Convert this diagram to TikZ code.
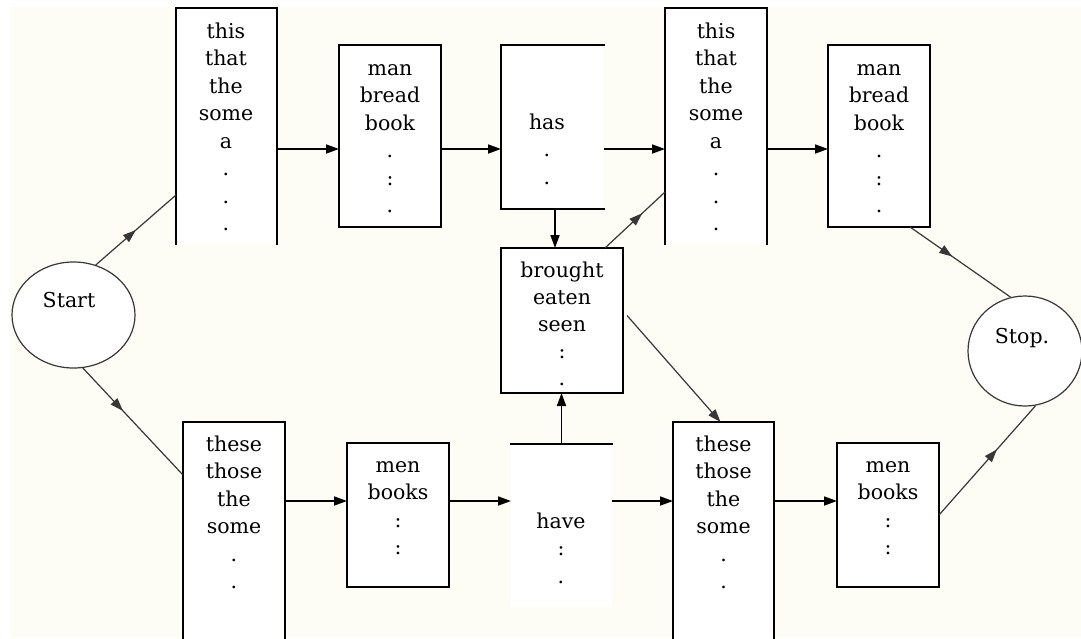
\documentclass[tikz,border=0pt]{standalone}
\usepackage{fontspec}
\setmainfont{DejaVu Serif}
\usetikzlibrary{arrows.meta,shapes.geometric,decorations.markings,calc}
\definecolor{paper}{RGB}{253,253,246}
\definecolor{thinline}{RGB}{55,55,55}
% fixed height on the first line so every word column hangs from the same point
\newcommand\wordstrut{\rule{0pt}{16pt}}
\tikzset{
  slot/.style={draw=none, fill=white, inner sep=0pt, outer sep=0pt},
  fullbox/.style={slot, draw=black, line width=1.9pt},
  edge/.style={line width=1.9pt, line cap=rect},
  words/.style={anchor=north, align=center, inner sep=0pt,
                font=\fontsize{20.5}{27.5}\selectfont},
  tag/.style={anchor=base, inner sep=0pt, font=\fontsize{20.5}{24}\selectfont},
  terminal/.style={ellipse, draw=thinline, line width=1.2pt, fill=white, inner sep=0pt},
  conn/.style={line width=1.7pt, -{Triangle[length=13pt,width=9pt]}},
  midarrow/.style={draw=thinline, line width=1.2pt, postaction={decorate},
    decoration={markings, mark=at position #1 with
      {\arrow[thinline]{Triangle[length=13pt,width=9pt]}}}}
}
\begin{document}
\begin{tikzpicture}[x=1pt,y=-1pt]
\useasboundingbox (0,0) rectangle (1081,638);
\fill[white] (0,0) rectangle (1081,638);
\fill[paper] (10,7) rectangle (1081,638);

% rows of the connecting arrows
\coordinate (toprow) at (0,149);
\coordinate (botrow) at (0,501);

% ---- upper chain ----
\node[slot, minimum width=101pt, minimum height=236pt] (tl1) at (226.5,126) {};
\draw[edge] (tl1.south west) |- (tl1.north east) -- (tl1.south east);
\node[words] (tl1w) at (226,22) {\wordstrut this\\that\\the\\some\\a\\.\\.\\.};

\node[fullbox, minimum width=102pt, minimum height=182pt] (mb1) at (390,136) {};
\node[words] (mb1w) at (390,59) {\wordstrut man\\bread\\book\\.\\:\\.};

\node[slot, minimum width=103pt, minimum height=164pt] (has) at (552.5,127) {};
\draw[edge] (has.north east) -- (has.north west) -- (has.south west) -- (has.south east);
\node[words] (hasw) at (547,113) {\wordstrut has\\.\\.};

\node[slot, minimum width=102pt, minimum height=236pt] (tl2) at (716,126) {};
\draw[edge] (tl2.south west) |- (tl2.north east) -- (tl2.south east);
\node[words] (tl2w) at (716,22) {\wordstrut this\\that\\the\\some\\a\\.\\.\\.};

\node[fullbox, minimum width=102pt, minimum height=182pt] (mb2) at (879,136) {};
\node[words] (mb2w) at (879,59) {\wordstrut man\\bread\\book\\.\\:\\.};

% ---- middle box ----
\node[fullbox, minimum width=122pt, minimum height=145pt] (br) at (562,320.5) {};
\node[words, font=\fontsize{20.5}{27}\selectfont] (brw) at (562,261)
  {\wordstrut brought\\eaten\\seen\\:\\.};

% ---- lower chain ----
\node[slot, minimum width=102pt, minimum height=217pt] (bl1) at (234,530.5) {};
\draw[edge] (bl1.south west) |- (bl1.north east) -- (bl1.south east);
\node[words] (bl1w) at (234,435) {\wordstrut these\\those\\the\\some\\.\\.};

\node[fullbox, minimum width=102pt, minimum height=144pt] (men1) at (398,515) {};
\node[words] (men1w) at (398,456) {\wordstrut men\\books\\:\\:};

\node[slot, minimum width=101pt, minimum height=163pt] (have) at (561.5,525.5) {};
\draw[edge] (have.north west) -- (have.north east);
\node[words] (havew) at (561,512) {\wordstrut have\\:\\.};

\node[slot, minimum width=101pt, minimum height=217pt] (bl2) at (723.5,530.5) {};
\draw[edge] (bl2.south west) |- (bl2.north east) -- (bl2.south east);
\node[words] (bl2w) at (723.5,435) {\wordstrut these\\those\\the\\some\\.\\.};

\node[fullbox, minimum width=102pt, minimum height=144pt] (men2) at (888,515) {};
\node[words] (men2w) at (888,456) {\wordstrut men\\books\\:\\:};

% ---- start and stop ----
\node[terminal, minimum width=123pt, minimum height=106pt] (start) at (73.5,315) {};
\node[tag] (startw) at (69,307) {Start};
\node[terminal, minimum width=114pt, minimum height=110pt] (stop) at (1025,351) {};
\node[tag] (stopw) at (1022,343) {Stop.};

% ---- connectors ----
\draw[conn] (tl1.east |- toprow) -- (mb1.west |- toprow);
\draw[conn] (mb1.east |- toprow) -- (has.west |- toprow);
\draw[conn] (has.east |- toprow) -- (tl2.west |- toprow);
\draw[conn] (tl2.east |- toprow) -- (mb2.west |- toprow);

\draw[conn] (bl1.east |- botrow) -- (men1.west |- botrow);
\draw[conn] (men1.east |- botrow) -- (have.west |- botrow);
\draw[conn] (have.east |- botrow) -- (bl2.west |- botrow);
\draw[conn] (bl2.east |- botrow) -- (men2.west |- botrow);

\draw[conn] ($(has.south)+(2.5,0)$) -- ($(has.south |- br.north)+(2.5,0)$);
\draw[conn] (have.north) -- (have.north |- br.south);

\draw[midarrow=0.5] (start.66) -- ($(tl1.south west)+(0,-49)$);
\draw[midarrow=0.4] (start.-80) -- ($(bl1.north west)+(0,53)$);
\draw[midarrow=0.62] ($(br.north east)+(-18,0)$) -- ($(tl2.south west)+(0,-52)$);
\draw[conn, draw=thinline, line width=1.2pt] ($(br.east)+(4,-5)$) -- ($(bl2.north)+(-3,0)$);
\draw[midarrow=0.42] ($(mb2.south east)+(-20,0)$) -- (stop.105);
\draw[midarrow=0.6] (men2.east) -- (stop.-79);
\end{tikzpicture}
\end{document}
